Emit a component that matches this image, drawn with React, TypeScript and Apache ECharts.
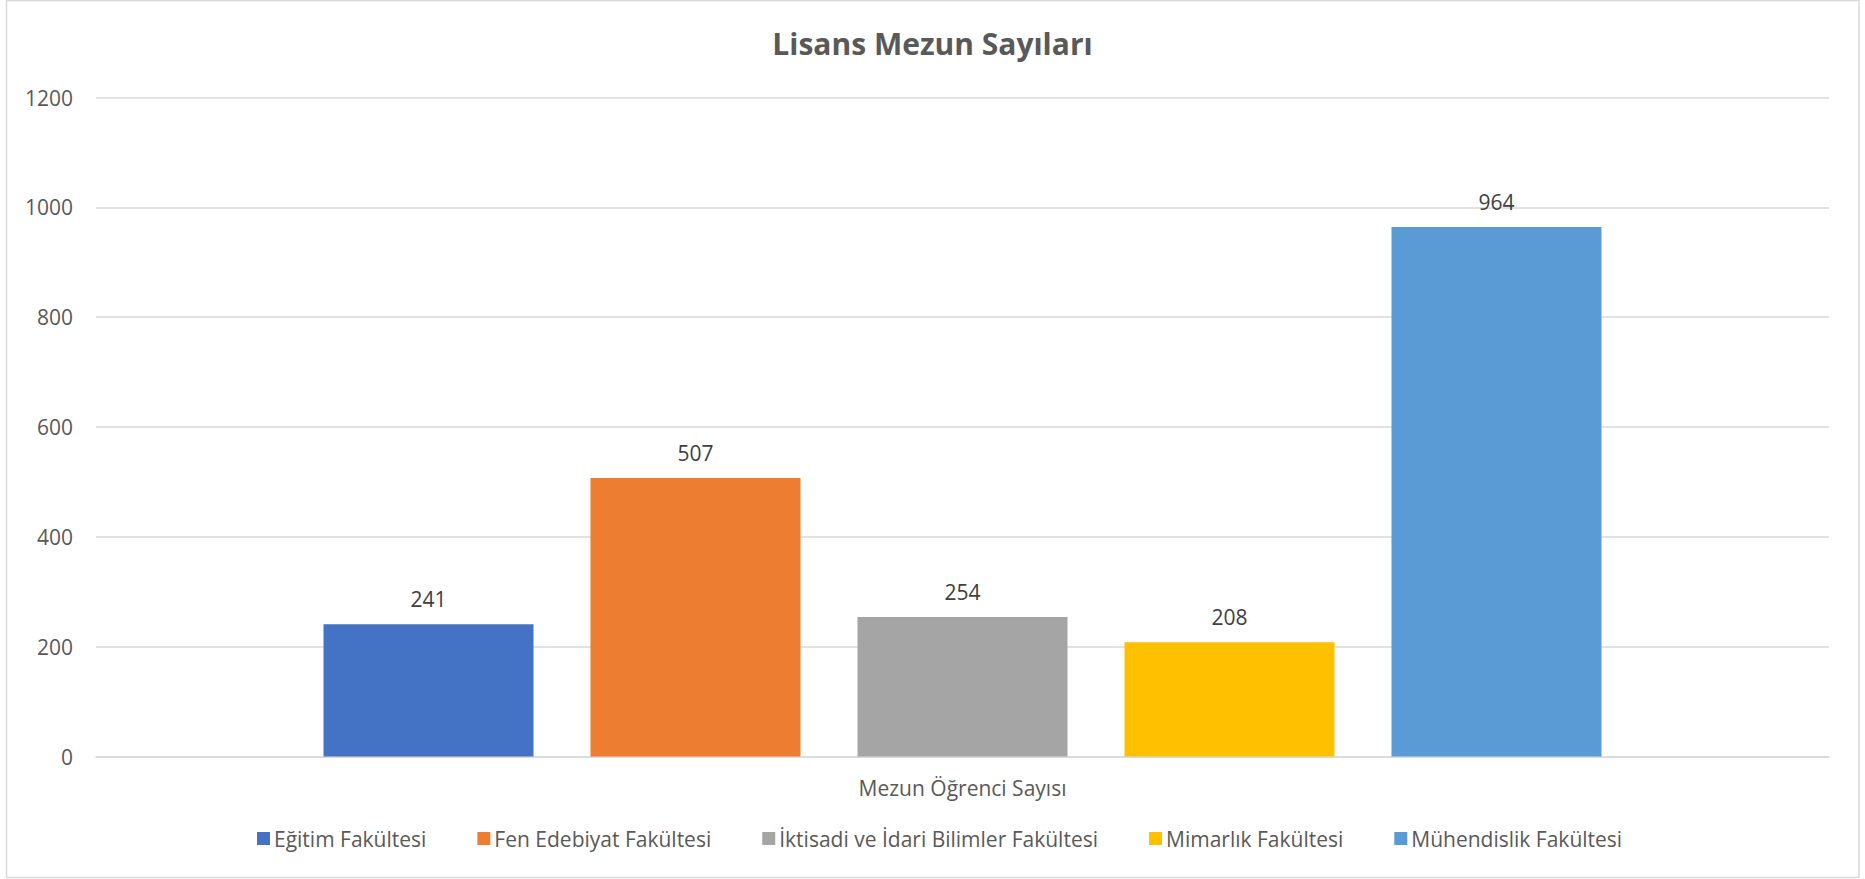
import React, { useEffect, useRef } from "react";
import * as echarts from "echarts";

const titleText = "Lisans Mezun Sayıları";
const categories = ["Mezun Öğrenci Sayısı"];
const seriesNames = [
  "Eğitim Fakültesi",
  "Fen Edebiyat Fakültesi",
  "İktisadi ve İdari Bilimler Fakültesi",
  "Mimarlık Fakültesi",
  "Mühendislik Fakültesi",
];
const seriesValues = [241, 507, 254, 208, 964];
const seriesColors = ["#4472C4", "#ED7D31", "#A5A5A5", "#FFC000", "#5B9BD5"];
const yMin = 0;
const yMax = 1200;
const yInterval = 200;

const FONT = "'Open Sans', sans-serif";

export default function App() {
  const ref = useRef<HTMLDivElement>(null);
  useEffect(() => {
    if (!ref.current) return;
    const chart = echarts.init(ref.current, null, { renderer: "svg" });
    chart.setOption({
      animation: false,
      backgroundColor: "#ffffff",
      textStyle: { fontFamily: FONT },
      title: {
        text: titleText,
        left: "center",
        top: 23,
        textStyle: { fontFamily: FONT, fontSize: 30, fontWeight: "bold", color: "#595959" },
      },
      graphic: [
        {
          type: "rect",
          z: -10,
          silent: true,
          shape: { x: 6.5, y: 0.5, width: 1852.5, height: 877 },
          style: { fill: "none", stroke: "#d9d9d9", lineWidth: 1.5 },
        },
      ],
      legend: {
        data: seriesNames,
        left: 252,
        top: 823,
        icon: "rect",
        itemWidth: 13,
        itemHeight: 13,
        itemGap: 51,
        textStyle: { fontFamily: FONT, fontSize: 21, color: "#595959", padding: [0, 0, 0, -1] },
      },
      grid: { left: 96, right: 36, top: 97.5, bottom: 122.5, containLabel: false },
      xAxis: {
        type: "category",
        data: categories,
        axisTick: { show: false },
        axisLine: { show: true, lineStyle: { color: "#d9d9d9", width: 1.5 } },
        axisLabel: { fontFamily: FONT, fontSize: 21, color: "#595959", margin: 21 },
      },
      yAxis: {
        type: "value",
        min: yMin,
        max: yMax,
        interval: yInterval,
        axisLine: { show: false },
        axisTick: { show: false },
        axisLabel: {
          fontFamily: FONT,
          fontSize: 21,
          color: "#595959",
          margin: 23,
          formatter: (v: number) => String(v),
        },
        splitLine: { lineStyle: { color: "#d9d9d9", width: 1.5 } },
      },
      series: seriesNames.map((name, i) => ({
        name,
        type: "bar",
        data: [seriesValues[i]],
        barWidth: 210,
        barGap: "27.14%",
        itemStyle: { color: seriesColors[i] },
        label: {
          show: true,
          position: "top",
          distance: 15,
          fontFamily: FONT,
          fontSize: 21,
          color: "#404040",
        },
      })),
    });
    return () => chart.dispose();
  }, []);
  return (
    <div
      ref={ref}
      style={{ position: "fixed", left: 0, top: 0, width: 1865, height: 879 }}
    />
  );
}
